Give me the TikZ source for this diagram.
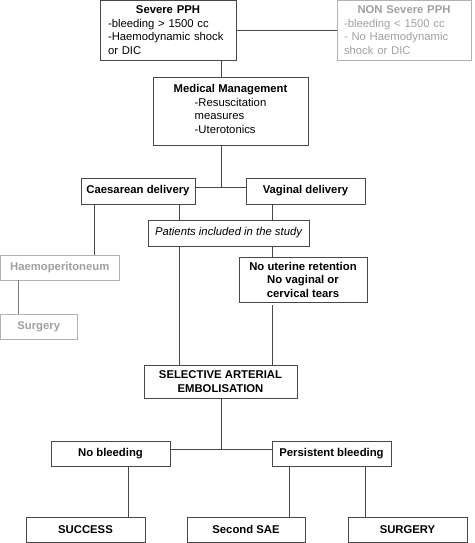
\documentclass[tikz,border=0pt]{standalone}
\usepackage{fontspec}
\setmainfont{Liberation Sans}
\definecolor{linec}{RGB}{72,72,72}
\definecolor{greyb}{RGB}{178,178,178}
\definecolor{greyt}{RGB}{160,160,160}
\definecolor{greyl}{RGB}{120,120,120}
\tikzset{
  base/.style={draw=linec, line width=0.9pt, inner sep=0pt, text=black, align=center,
    font=\fontsize{11.3}{13.5}\selectfont},
  bbox/.style={base, font=\fontsize{11.3}{13.5}\selectfont\bfseries},
  gbox/.style={bbox, draw=greyb, text=greyt},
  conn/.style={draw=linec, line width=0.9pt},
  gconn/.style={draw=greyl, line width=0.9pt}
}
\begin{document}
\begin{tikzpicture}[x=1pt,y=-1pt]
\useasboundingbox (0,0) rectangle (474,543);
% nodes
\node[base, minimum width=136pt, minimum height=59.5pt, text width=120pt, inner xsep=8pt, align=left] (severe) at (168,30.25)
  {\makebox[\linewidth]{\textbf{Severe PPH}}\\-bleeding > 1500 cc\\-Haemodynamic shock\\or DIC};
\node[base, draw=greyb, text=greyt, minimum width=134pt, minimum height=59.5pt, text width=120pt, inner xsep=7pt, align=left] (nonsevere) at (404,30.25)
  {\makebox[\linewidth]{\textbf{NON Severe PPH}}\\-bleeding < 1500 cc\\- No Haemodynamic\\shock or DIC};
\node[base, minimum width=155pt, minimum height=68pt] (medical) at (230.5,111)
  {\textbf{Medical Management}\\\begin{tabular}[t]{@{}l@{}}-Resuscitation\\measures\\-Uterotonics\end{tabular}};
\node[bbox, minimum width=114pt, minimum height=26pt] (caes) at (138,191) {Caesarean delivery};
\node[bbox, minimum width=119pt, minimum height=26pt] (vag) at (305.5,191) {Vaginal delivery};
\node[base, font=\fontsize{11.3}{13.5}\selectfont\itshape, minimum width=161pt, minimum height=26pt] (patients) at (228.5,233) {Patients included in the study};
\node[gbox, minimum width=118.5pt, minimum height=25pt] (haemo) at (59.75,267.5) {Haemoperitoneum};
\node[gbox, minimum width=76.5pt, minimum height=25pt] (surgeryg) at (38.75,326.5) {Surgery};
\node[bbox, minimum width=128pt, minimum height=45pt] (nouter) at (303,279.5) {No uterine retention\\No vaginal or\\cervical tears};
\node[bbox, minimum width=153pt, minimum height=33pt] (sae) at (220.5,381.5) {SELECTIVE ARTERIAL\\EMBOLISATION};
\node[bbox, minimum width=119pt, minimum height=25pt] (nobleed) at (110.5,453.5) {No bleeding};
\node[bbox, minimum width=119pt, minimum height=25pt] (persist) at (331.5,453.5) {Persistent bleeding};
\node[bbox, minimum width=119pt, minimum height=25.5pt] (success) at (85.5,529.75) {SUCCESS};
\node[bbox, minimum width=118pt, minimum height=25.5pt] (second) at (246,529.75) {Second SAE};
\node[bbox, minimum width=119pt, minimum height=25.5pt] (surgery) at (407.5,529.75) {SURGERY};
% helper coordinates
\coordinate (xa) at (221,0);
\coordinate (xb) at (94,0);
\coordinate (xc) at (179,0);
\coordinate (xd) at (272,0);
\coordinate (xe) at (18,0);
\coordinate (xf) at (128,0);
\coordinate (xg) at (289,0);
\coordinate (xh) at (365,0);
\coordinate (j1) at (221,187);
\coordinate (j2) at (221,449);
% connectors
\draw[conn] (severe.east) -- (nonsevere.west);
\draw[conn] (severe.south -| xa) -- (medical.north -| xa);
\draw[conn] (medical.south -| xa) -- (j1);
\draw[conn] (caes.east |- j1) -- (vag.west |- j1);
\draw[conn] (caes.south -| xb) -- (haemo.north -| xb);
\draw[conn] (caes.south -| xc) -- (patients.north -| xc);
\draw[conn] (vag.south -| xd) -- (patients.north -| xd);
\draw[gconn] (haemo.south -| xe) -- (surgeryg.north -| xe);
\draw[conn] (patients.south -| xc) -- (sae.north -| xc);
\draw[conn] (patients.south -| xd) -- (nouter.north -| xd);
\draw[conn] ([yshift=-3pt]nouter.south -| xd) -- (sae.north -| xd);
\draw[conn] (sae.south -| xa) -- (j2);
\draw[conn] (nobleed.east |- j2) -- (persist.west |- j2);
\draw[conn] (nobleed.south -| xf) -- (success.north -| xf);
\draw[conn] (persist.south -| xg) -- (second.north -| xg);
\draw[conn] (persist.south -| xh) -- (surgery.north -| xh);
\end{tikzpicture}
\end{document}
